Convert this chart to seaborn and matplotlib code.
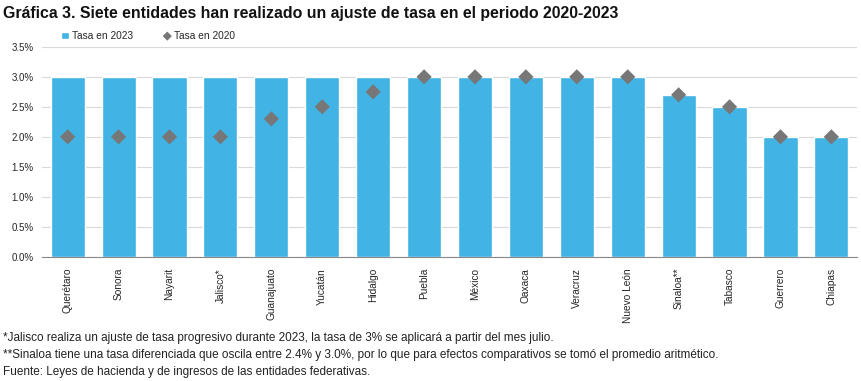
import matplotlib.pyplot as plt
import seaborn as sns
import pandas as pd
import numpy as np

estados = ["Querétaro", "Sonora", "Nayarit", "Jalisco*", "Guanajuato", "Yucatán",
           "Hidalgo", "Puebla", "México", "Oaxaca", "Veracruz", "Nuevo León",
           "Sinaloa**", "Tabasco", "Guerrero", "Chiapas"]
tasa_2023 = [3.0, 3.0, 3.0, 3.0, 3.0, 3.0, 3.0, 3.0, 3.0, 3.0, 3.0, 3.0, 2.7, 2.5, 2.0, 2.0]
tasa_2020 = [2.0, 2.0, 2.0, 2.0, 2.3, 2.5, 2.75, 3.0, 3.0, 3.0, 3.0, 3.0, 2.7, 2.5, 2.0, 2.0]

df = pd.DataFrame({"estado": estados, "t2023": tasa_2023, "t2020": tasa_2020})

sns.set_style("white")
plt.rcParams["font.family"] = ["Liberation Sans", "DejaVu Sans"]

fig = plt.figure(figsize=(8.62, 3.81), dpi=100)
ax = fig.add_axes([0.049, 0.326, 0.945, 0.551])

sns.barplot(data=df, x="estado", y="t2023", color="#41b3e4", width=0.67,
            saturation=1, ax=ax, label="Tasa en 2023")
sns.scatterplot(data=df, x="estado", y="t2020", marker="D", s=60, color="#777777",
                edgecolor="none", ax=ax, label="Tasa en 2020", zorder=5)

ax.set_ylim(0, 3.5)
ax.set_xlim(-0.5, len(estados) - 0.5)
ax.set_yticks(np.arange(0, 3.51, 0.5))
ax.set_yticklabels([f"{v:.1f}%" for v in np.arange(0, 3.51, 0.5)], fontsize=7)
ax.yaxis.grid(True, color="#d9d9d9", linewidth=0.8)
ax.set_axisbelow(True)
ax.set_xlabel("")
ax.set_ylabel("")
ax.tick_params(axis="y", length=0, pad=6)
ax.set_xticks(range(len(estados)))
ax.set_xticklabels(estados, rotation=90, fontsize=7.3, va="top")
ax.tick_params(axis="x", which="major", length=0, pad=8)
ax.set_xticks(np.arange(-0.5, len(estados), 1), minor=True)
ax.tick_params(axis="x", which="minor", length=5, color="#888888", width=0.8)

for s in ["top", "right", "left"]:
    ax.spines[s].set_visible(False)
ax.spines["bottom"].set_color("#888888")
ax.spines["bottom"].set_linewidth(0.8)

handles, labels = ax.get_legend_handles_labels()
orden = [labels.index("Tasa en 2023"), labels.index("Tasa en 2020")]
leg = ax.legend([handles[i] for i in orden], [labels[i] for i in orden],
                loc="lower left", bbox_to_anchor=(0.015, 1.0), ncol=2,
                frameon=False, fontsize=7.3, handlelength=0.8, handletextpad=0.3,
                columnspacing=3.0, borderaxespad=0.2, markerscale=0.6)

fig.text(0.003, 0.965, "Gráfica 3. Siete entidades han realizado un ajuste de tasa en el periodo 2020-2023",
         fontsize=11.4, fontweight="bold", va="center", color="#111111")

notas = ["*Jalisco realiza un ajuste de tasa progresivo durante 2023, la tasa de 3% se aplicará a partir del mes julio.",
         "**Sinaloa tiene una tasa diferenciada que oscila entre 2.4% y 3.0%, por lo que para efectos comparativos se tomó el promedio aritmético.",
         "Fuente: Leyes de hacienda y de ingresos de las entidades federativas."]
for i, t in enumerate(notas):
    fig.text(0.003, 1 - (338 + 17 * i) / 381, t, fontsize=8.5,
             va="center", color="#222222")

fig.savefig("out.png", dpi=100)
plt.close()
